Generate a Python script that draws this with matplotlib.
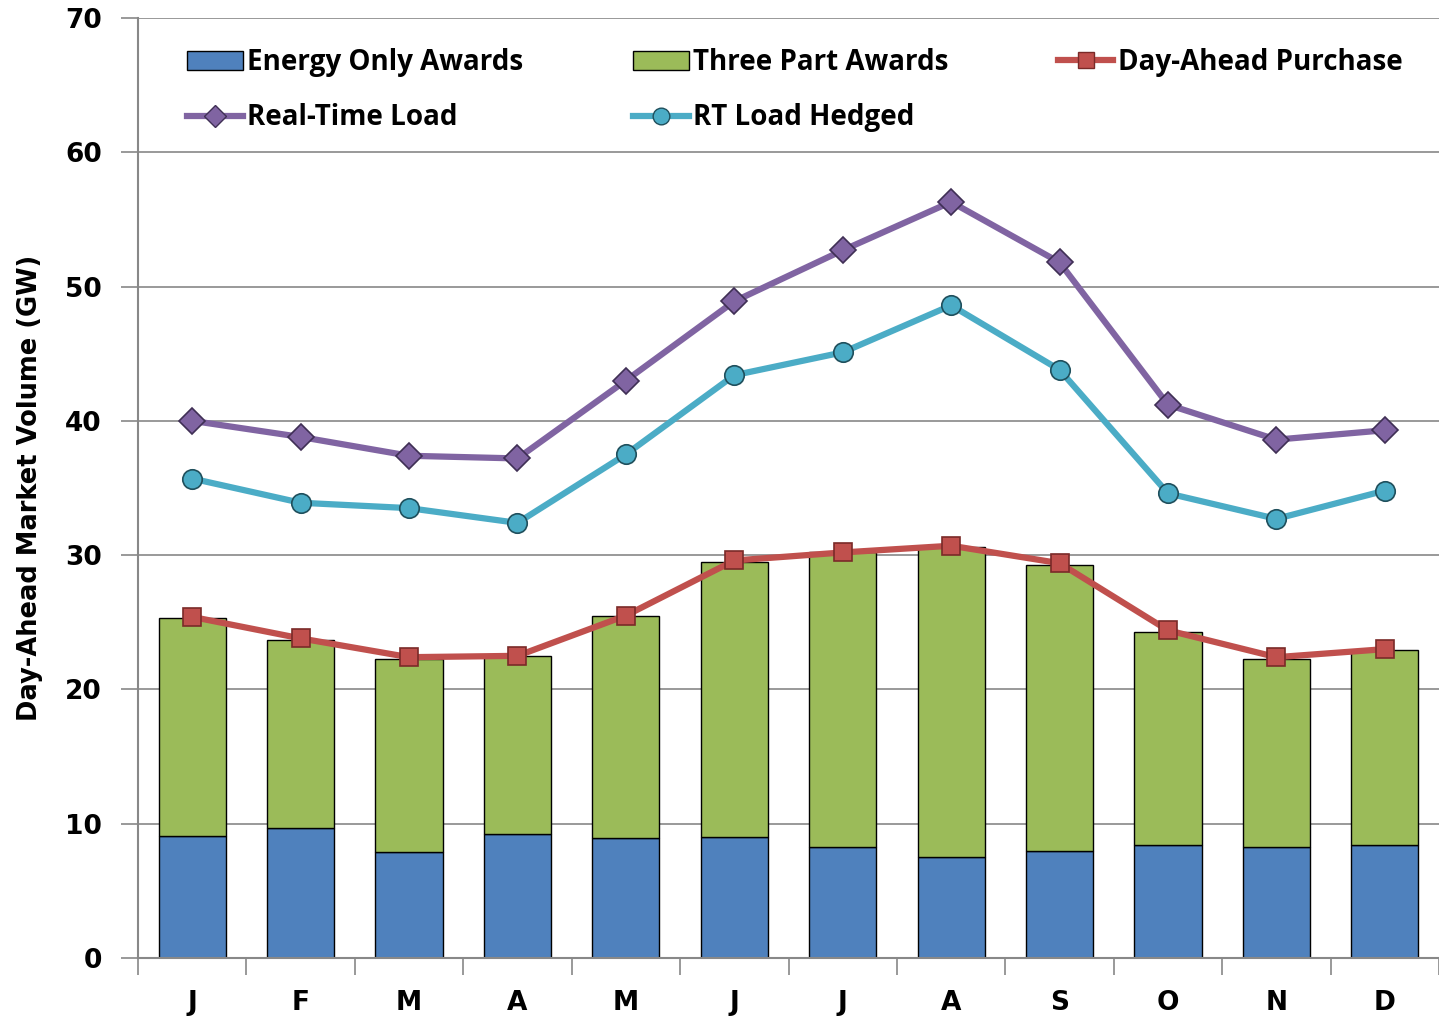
import matplotlib.pyplot as plt
from matplotlib.lines import Line2D
from matplotlib.patches import Patch
import numpy as np

months = ['J', 'F', 'M', 'A', 'M', 'J', 'J', 'A', 'S', 'O', 'N', 'D']

energy_only = [9.1, 9.7, 7.9, 9.2, 8.9, 9.0, 8.3, 7.5, 8.0, 8.4, 8.3, 8.4]
three_part = [16.2, 14.0, 14.4, 13.3, 16.6, 20.5, 21.9, 23.1, 21.3, 15.9, 14.0, 14.5]
day_ahead = [25.4, 23.8, 22.4, 22.5, 25.5, 29.6, 30.2, 30.7, 29.4, 24.4, 22.4, 23.0]
rt_load = [40.0, 38.8, 37.4, 37.2, 43.0, 48.9, 52.7, 56.3, 51.8, 41.2, 38.6, 39.3]
rt_hedged = [35.7, 33.9, 33.5, 32.4, 37.5, 43.4, 45.1, 48.6, 43.8, 34.6, 32.7, 34.8]

c_blue = '#4F81BD'
c_green = '#9BBB59'
c_red = '#C0504D'
c_purple = '#8064A2'
c_cyan = '#4BACC6'

fig = plt.figure(figsize=(14.39, 10.16), dpi=100)
ax = fig.add_axes([0.0959, 0.0571, 0.9041, 0.9252])

x = np.arange(len(months))
w = 0.62
ax.bar(x, energy_only, w, color=c_blue, edgecolor='black', linewidth=1.0, zorder=2)
ax.bar(x, three_part, w, bottom=energy_only, color=c_green, edgecolor='black', linewidth=1.0, zorder=2)

ax.plot(x, day_ahead, color=c_red, lw=4.5, marker='s', ms=13, mfc=c_red, mec='#7a2a28', mew=1.2, zorder=4)
ax.plot(x, rt_load, color=c_purple, lw=4.5, marker='D', ms=13, mfc=c_purple, mec='#3f2f55', mew=1.2, zorder=4)
ax.plot(x, rt_hedged, color=c_cyan, lw=4.5, marker='o', ms=14, mfc=c_cyan, mec='#1f4f5c', mew=1.2, zorder=4)

ax.set_ylim(0, 70)
ax.set_xlim(-0.5, 11.44)
ax.set_yticks(range(0, 71, 10))
ax.yaxis.grid(True, color='#888888', lw=1.2, zorder=0)
ax.set_axisbelow(True)

ax.set_xticks(x)
ax.set_xticklabels(months)
ax.set_xticks(np.arange(-0.5, 12, 1), minor=True)
ax.tick_params(axis='x', which='major', length=0, pad=23, labelsize=19)
ax.tick_params(axis='x', which='minor', length=12, direction='out', color='#888888', width=1.2)
ax.tick_params(axis='y', length=12, color='#888888', width=1.2, labelsize=19, pad=14)
for lab in ax.get_xticklabels() + ax.get_yticklabels():
    lab.set_fontweight('bold')
    lab.set_family('DejaVu Sans')

for s in ['top', 'right']:
    ax.spines[s].set_visible(False)
for s in ['left', 'bottom']:
    ax.spines[s].set_color('#888888')
    ax.spines[s].set_linewidth(1.5)

ax.set_ylabel('Day-Ahead Market Volume (GW)', fontsize=18.5, fontweight='bold',
              family='Liberation Sans Narrow', labelpad=16)

handles = [
    Patch(facecolor=c_blue, edgecolor='black'),
    Line2D([], [], color=c_purple, lw=4.5, marker='D', ms=11, mfc=c_purple, mec='#3f2f55'),
    Patch(facecolor=c_green, edgecolor='black'),
    Line2D([], [], color=c_cyan, lw=4.5, marker='o', ms=12, mfc=c_cyan, mec='#1f4f5c'),
    Line2D([], [], color=c_red, lw=4.5, marker='s', ms=11, mfc=c_red, mec='#7a2a28'),
    Patch(facecolor='none', edgecolor='none'),
]
labels = ['Energy Only Awards', 'Real-Time Load', 'Three Part Awards',
          'RT Load Hedged', 'Day-Ahead Purchase', '']
ax.legend(handles, labels, ncol=3, loc='upper left', bbox_to_anchor=(0.038, 0.968),
          frameon=False, handlelength=2.0, handletextpad=0.15,
          columnspacing=3.95, labelspacing=0.95, borderpad=0, borderaxespad=0,
          prop={'family': 'Open Sans', 'weight': 'bold', 'size': 20})

fig.savefig('out.png', dpi=100)
